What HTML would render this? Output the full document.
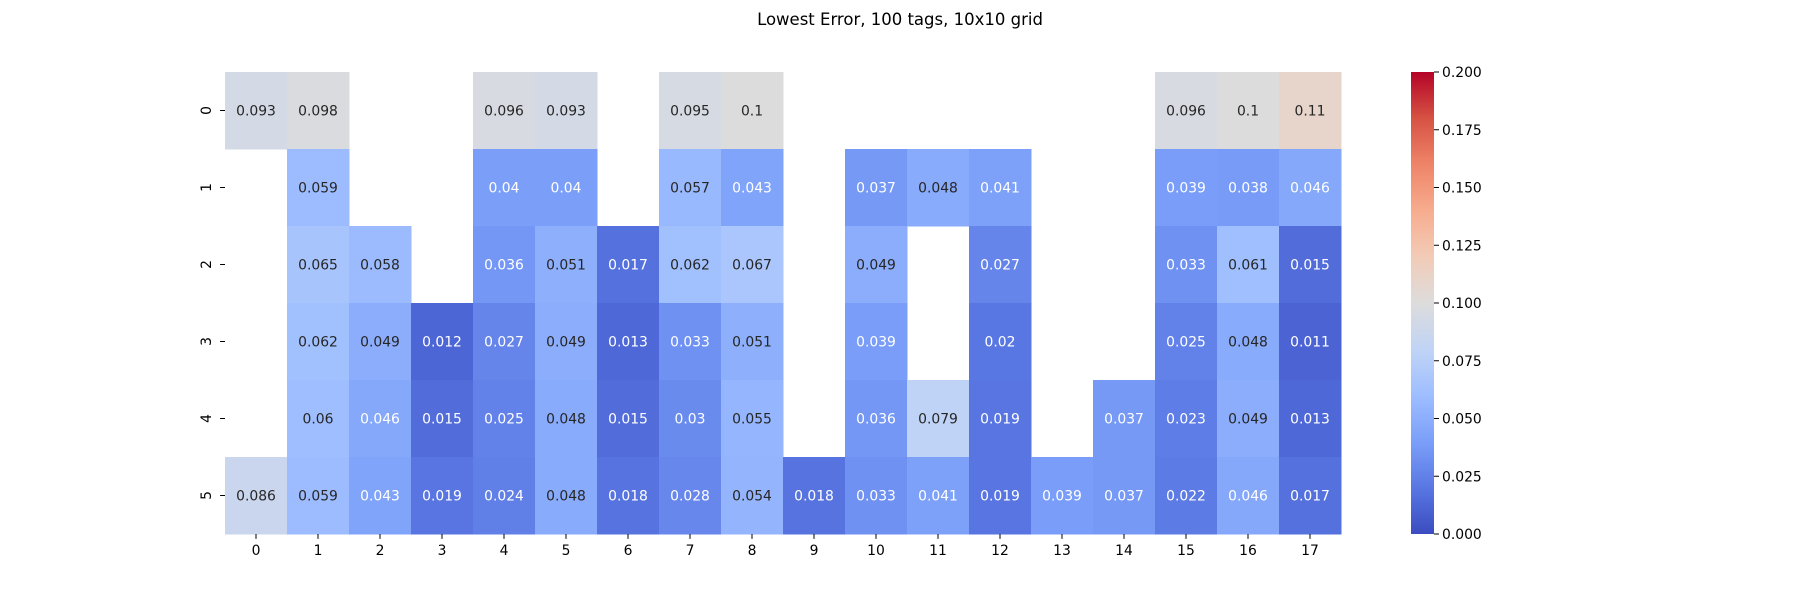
<!DOCTYPE html>
<html><head><meta charset="utf-8"><style>
html,body{margin:0;padding:0;background:#fff}
svg{display:block;font-family:"DejaVu Sans","Liberation Sans",sans-serif}
</style></head><body>
<svg id="chart" width="1800" height="600" viewBox="0 0 1800 600">
<defs>
<linearGradient id="cbgrad" x1="0" y1="1" x2="0" y2="0">
<stop offset="0" stop-color="#3b4cc0"/><stop offset="0.1" stop-color="#5977e3"/><stop offset="0.2" stop-color="#7b9ff9"/><stop offset="0.3" stop-color="#9ebeff"/><stop offset="0.4" stop-color="#c0d4f5"/><stop offset="0.5" stop-color="#dddcdc"/><stop offset="0.6" stop-color="#f2cbb7"/><stop offset="0.7" stop-color="#f7ac8e"/><stop offset="0.8" stop-color="#ee8468"/><stop offset="0.9" stop-color="#d65244"/><stop offset="1" stop-color="#b40426"/>
</linearGradient>
</defs>
<text x="900" y="25" text-anchor="middle" font-size="16.5" fill="#000">Lowest Error, 100 tags, 10x10 grid</text>
<g id="cells"></g>
<g id="xticks"></g>
<g id="yticks"></g>
<rect x="1411" y="72" width="23" height="462" fill="url(#cbgrad)"/>
<g id="cbticks"></g>
</svg>
<script>
const xLabels = ["0","1","2","3","4","5","6","7","8","9","10","11","12","13","14","15","16","17"];
const yLabels = ["0","1","2","3","4","5"];
const row0 = [0.093,0.098,null,null,0.096,0.093,null,0.095,0.1,null,null,null,null,null,null,0.096,0.1,0.11];
const row1 = [null,0.059,null,null,0.04,0.04,null,0.057,0.043,null,0.037,0.048,0.041,null,null,0.039,0.038,0.046];
const row2 = [null,0.065,0.058,null,0.036,0.051,0.017,0.062,0.067,null,0.049,null,0.027,null,null,0.033,0.061,0.015];
const row3 = [null,0.062,0.049,0.012,0.027,0.049,0.013,0.033,0.051,null,0.039,null,0.02,null,null,0.025,0.048,0.011];
const row4 = [null,0.06,0.046,0.015,0.025,0.048,0.015,0.03,0.055,null,0.036,0.079,0.019,null,0.037,0.023,0.049,0.013];
const row5 = [0.086,0.059,0.043,0.019,0.024,0.048,0.018,0.028,0.054,0.018,0.033,0.041,0.019,0.039,0.037,0.022,0.046,0.017];
const cbTicks = [0,0.025,0.05,0.075,0.1,0.125,0.15,0.175,0.2];
const vmin = 0, vmax = 0.2;

const rows = [row0,row1,row2,row3,row4,row5];
const NS = "http://www.w3.org/2000/svg";
const L = 225, R = 1341, T = 72, B = 534;
const cw = (R-L)/xLabels.length, ch = (B-T)/yLabels.length;
const xPos = i => L + i*cw;
const yPos = j => T + j*ch;
const cbY = v => B - (v-vmin)/(vmax-vmin)*(B-T);
const stops = ["#3b4cc0","#5977e3","#7b9ff9","#9ebeff","#c0d4f5","#dddcdc","#f2cbb7","#f7ac8e","#ee8468","#d65244","#b40426"].map(h=>[1,3,5].map(k=>parseInt(h.substr(k,2),16)));
function cmap(v){
  let t = Math.max(0,Math.min(1,(v-vmin)/(vmax-vmin)))*10;
  let i = Math.min(9,Math.floor(t)), f = t-i;
  return stops[i].map((c,k)=>Math.round(c+(stops[i+1][k]-c)*f));
}
function lum(c){
  const l = c.map(x=>{x/=255;return x<=0.03928?x/12.92:Math.pow((x+0.055)/1.055,2.4);});
  return 0.2126*l[0]+0.7152*l[1]+0.0722*l[2];
}
function mk(tag, attrs, parent){const e=document.createElementNS(NS,tag);for(const k in attrs)e.setAttribute(k,attrs[k]);parent.appendChild(e);return e;}
const cells = document.getElementById('cells');
rows.forEach((row,j)=>{
  row.forEach((v,i)=>{
    if(v===null) return;
    const c = cmap(v);
    const r = mk('rect',{x:xPos(i),y:yPos(j),width:cw+0.5,height:ch+0.5,fill:`rgb(${c})`},cells);
    
    
    const t = mk('text',{x:xPos(i)+cw/2,y:yPos(j)+ch/2+5,'text-anchor':'middle','font-size':'13.9',fill:lum(c)>0.408?'#262626':'#ffffff'},cells);
    t.textContent = String(v);
    
    
  });
});
const xg = document.getElementById('xticks');
xLabels.forEach((lab,i)=>{
  const x = xPos(i)+cw/2;
  mk('line',{x1:x,x2:x,y1:B,y2:B+4.9,stroke:'#000','stroke-width':1},xg);
  const t = mk('text',{x:x,y:B+21,'text-anchor':'middle','font-size':'13.9',fill:'#000'},xg);
  t.textContent = lab;
  
  
});
const yg = document.getElementById('yticks');
yLabels.forEach((lab,j)=>{
  const y = yPos(j)+ch/2;
  mk('line',{x1:L-4.9,x2:L,y1:y,y2:y,stroke:'#000','stroke-width':1},yg);
  const t = mk('text',{x:0,y:0,'text-anchor':'middle','font-size':'13.9',fill:'#000',transform:`translate(211,${y}) rotate(-90)`},yg);
  t.textContent = lab;
  
  
});
const cg = document.getElementById('cbticks');
cbTicks.forEach(v=>{
  const y = cbY(v);
  mk('line',{x1:1434,x2:1439,y1:y,y2:y,stroke:'#000','stroke-width':1},cg);
  const t = mk('text',{x:1442,y:y+5,'font-size':'13.9',fill:'#000'},cg);
  t.textContent = v.toFixed(3);
  
  
});
</script>
</body></html>
